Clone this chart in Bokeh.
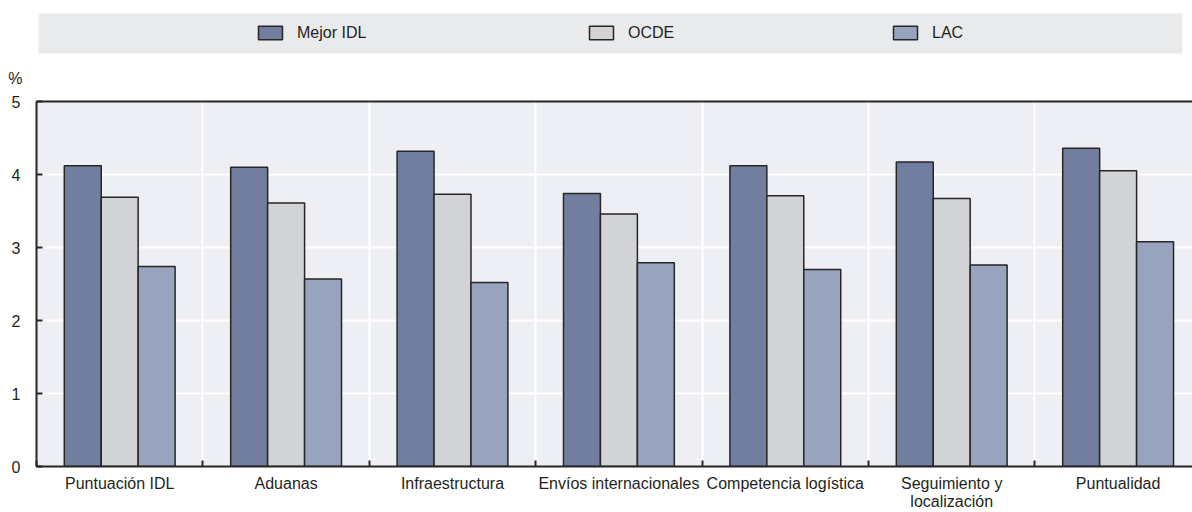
from bokeh.plotting import figure
from bokeh.models import (Range1d, FixedTicker, Legend, LegendItem, BoxAnnotation,
                          LinearAxis, ColumnDataSource)
from bokeh.layouts import column
from bokeh.transform import dodge
from bokeh.embed import file_html
from bokeh.resources import INLINE

# ---------------- data ----------------
categories = ["Puntuación IDL", "Aduanas", "Infraestructura", "Envíos internacionales",
              "Competencia logística", "Seguimiento y\nlocalización", "Puntualidad"]
mejor_idl = [4.12, 4.10, 4.32, 3.74, 4.12, 4.17, 4.36]
ocde = [3.69, 3.61, 3.73, 3.46, 3.71, 3.67, 4.05]
lac = [2.74, 2.57, 2.52, 2.79, 2.70, 2.76, 3.08]
series_names = ["Mejor IDL", "OCDE", "LAC"]
y_ticks = [0, 1, 2, 3, 4, 5]
y_unit = "%"

# ---------------- styling ----------------
FONT = "Liberation Sans, Arial, sans-serif"
TXT = "#231f20"
COLORS = ["#717e9f", "#d2d3d5", "#98a3bd"]
EDGE = "#262626"

n = len(categories)
centers = [i + 0.5 for i in range(n)]
bounds = list(range(n + 1))
src = ColumnDataSource(dict(x=centers, mejor=mejor_idl, ocde=ocde, lac=lac))
series_cols = ["mejor", "ocde", "lac"]

# ---------------- header (legend band + unit) ----------------
LEFT, FW = 36, 1156
H_H = 93
h = figure(frame_width=FW, frame_height=H_H, min_border_left=LEFT, min_border_right=0,
           min_border_top=0, min_border_bottom=0,
           x_range=Range1d(LEFT, LEFT + FW), y_range=Range1d(H_H, 0),
           output_backend="svg", toolbar_location=None, tools="",
           x_axis_location=None, y_axis_location=None)
h.outline_line_color = None
h.xgrid.visible = False
h.ygrid.visible = False
h.background_fill_color = "white"
h.border_fill_color = "white"

band = BoxAnnotation(left=38, right=1182, top=13, bottom=53,
                     fill_color="#e9eaec", fill_alpha=1, line_color=None,
                     level="underlay")
h.add_layout(band)

# legend swatches: hidden renderers of the series (legend drawn without inactive overlay)
for name, colname, col, vx in zip(series_names, series_cols, COLORS, [219, 550, 854]):
    rr = h.vbar(x="x", top=colname, bottom=0, width=0.2, source=src,
                fill_color=col, line_color=EDGE, line_width=1.5)
    rr.visible = False
    lg = Legend(items=[LegendItem(label=name, renderers=[rr], index=0)],
                location=(vx, 51.5), orientation="horizontal",
                glyph_width=30, glyph_height=17, label_height=17,
                label_standoff=12, padding=0, margin=0, spacing=0,
                background_fill_alpha=0, border_line_color=None,
                inactive_fill_alpha=0,
                label_text_font=FONT, label_text_font_size="16px",
                label_text_color=TXT)
    h.add_layout(lg, "center")

# unit label "%" via an invisible left axis of the header
ua = LinearAxis(ticker=FixedTicker(ticks=[78]))
ua.major_label_overrides = {78: y_unit}
ua.axis_line_color = None
ua.major_tick_line_color = None
ua.minor_tick_line_color = None
ua.major_label_standoff = 8
ua.major_label_text_font = FONT
ua.major_label_text_font_size = "16px"
ua.major_label_text_color = TXT
h.add_layout(ua, "left")

# ---------------- main chart ----------------
p = figure(frame_width=FW, frame_height=365,
           min_border_left=LEFT, min_border_right=0, min_border_top=8, min_border_bottom=46,
           x_range=Range1d(0, 6.947), y_range=Range1d(0, 5),
           output_backend="svg", toolbar_location=None, tools="",
           x_axis_location=None, y_axis_location=None)
p.outline_line_color = None
p.background_fill_color = "#eeeff4"
p.border_fill_color = "white"

bw = 0.222
for off, colname, col in zip([-bw, 0, bw], series_cols, COLORS):
    p.vbar(x=dodge("x", off), top=colname, bottom=0, width=bw, source=src,
           fill_color=col, line_color=EDGE, line_width=1.5)

p.xgrid[0].ticker = FixedTicker(ticks=bounds)
p.ygrid[0].ticker = FixedTicker(ticks=y_ticks)
for g in (p.xgrid[0], p.ygrid[0]):
    g.grid_line_color = "white"
    g.grid_line_width = 2

xa = LinearAxis(ticker=FixedTicker(ticks=centers, minor_ticks=bounds))
xa.major_label_overrides = {c: lab for c, lab in zip(centers, categories)}
xa.major_tick_line_color = None
xa.minor_tick_in = 6
xa.minor_tick_out = 0
xa.minor_tick_line_color = EDGE
xa.minor_tick_line_width = 2
xa.axis_line_color = EDGE
xa.axis_line_width = 2
xa.major_label_standoff = 2
xa.major_label_text_font = FONT
xa.major_label_text_font_size = "16px"
xa.major_label_text_line_height = 1.1
xa.major_label_text_color = TXT
p.add_layout(xa, "below")

ya = LinearAxis(ticker=FixedTicker(ticks=y_ticks))
ya.major_tick_in = 6
ya.major_tick_out = 0
ya.major_tick_line_color = EDGE
ya.major_tick_line_width = 2
ya.minor_tick_line_color = None
ya.axis_line_color = EDGE
ya.axis_line_width = 2
ya.major_label_standoff = 16
ya.major_label_text_font = FONT
ya.major_label_text_font_size = "16px"
ya.major_label_text_color = TXT
p.add_layout(ya, "left")

ta = LinearAxis(ticker=FixedTicker(ticks=[]))
ta.major_tick_line_color = None
ta.minor_tick_line_color = None
ta.major_label_text_font_size = "0px"
ta.major_label_standoff = 0
ta.axis_line_color = EDGE
ta.axis_line_width = 2
p.add_layout(ta, "above")

layout = column(h, p, spacing=0)
open("out.html", "w").write(file_html(layout, INLINE))
